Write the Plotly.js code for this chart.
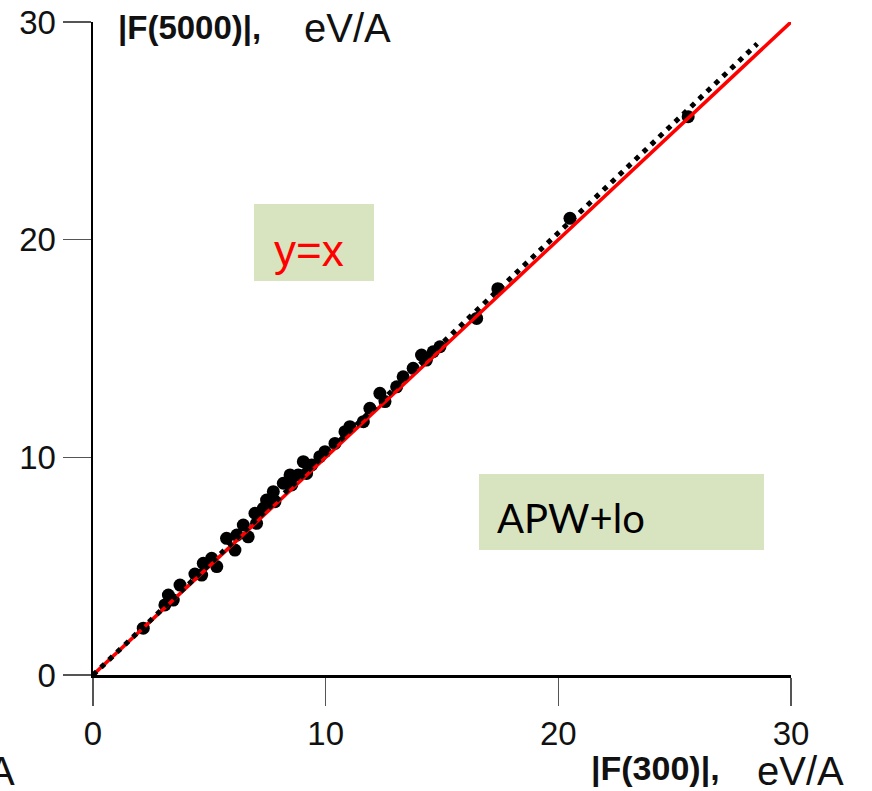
<!DOCTYPE html>
<html>
<head>
<meta charset="utf-8">
<script src="https://cdn.plot.ly/plotly-3.0.1.min.js"></script>
<style>html,body{margin:0;padding:0;background:#fff}#chart{width:872px;height:791px}</style>
</head>
<body>
<div id="chart"></div>
<script>
// |F(300)| values (x) and |F(5000)| values (y), eV/A
const f300 = [2.16, 3.09, 3.24, 3.45, 3.74, 4.38, 4.67, 4.74, 5.10, 5.32, 5.74, 6.10, 6.18, 6.46, 6.67, 6.96, 7.03, 7.32, 7.46, 7.75, 7.82, 8.18, 8.47, 8.54, 8.82, 9.04, 9.18, 9.40, 9.75, 9.97, 10.40, 10.83, 11.04, 11.62, 11.90, 12.33, 12.55, 13.05, 13.33, 13.76, 14.12, 14.33, 14.62, 14.91, 16.49, 17.40, 20.50, 25.58];
const f5000 = [2.15, 3.22, 3.67, 3.44, 4.13, 4.64, 4.59, 5.13, 5.36, 4.98, 6.28, 5.74, 6.43, 6.89, 6.35, 7.43, 6.97, 7.66, 8.04, 8.42, 7.96, 8.81, 9.19, 8.73, 9.19, 9.80, 9.26, 9.65, 10.03, 10.26, 10.64, 11.18, 11.41, 11.64, 12.25, 12.94, 12.56, 13.24, 13.70, 14.09, 14.70, 14.47, 14.85, 15.08, 16.38, 17.75, 20.98, 25.65];
// fitted (dotted) line end points
const fitX = [0, 28.55];
const fitY = [0, 29.0];
// y = x reference line
const idX = [0, 30];
const idY = [0, 30];
const tickVals = [0, 10, 20, 30];
const tickText = ["0", "10", "20", "30"];

const L = 93, T = 22, W = 698, H = 653;
const px = v => (v - L) / W;
const py = v => (T + H - v) / H;

const traces = [
  {x: f300, y: f5000, type: 'scatter', mode: 'markers', cliponaxis: false,
   marker: {color: '#000', size: 13}, hoverinfo: 'skip'},
  {x: idX, y: idY, type: 'scatter', mode: 'lines', cliponaxis: false,
   line: {color: '#ff0000', width: 3.5}},
  {x: fitX, y: fitY, type: 'scatter', mode: 'lines', cliponaxis: false,
   line: {color: '#000', width: 5, dash: '5px,6px'}}
];

const axisCommon = {
  range: [0, 30], tickvals: tickVals, ticktext: tickText,
  showgrid: false, zeroline: false, showline: true, linecolor: '#000', linewidth: 2.5,
  ticks: 'outside', ticklen: 28, tickwidth: 1.5, tickcolor: '#555',
  tickfont: {family: 'Liberation Sans, Arial, sans-serif', size: 33, color: '#111'},
  fixedrange: true
};

const layout = {
  width: 872, height: 791,
  margin: {l: L, r: 872 - L - W, t: T, b: 791 - T - H, pad: 0},
  paper_bgcolor: '#fff', plot_bgcolor: '#fff',
  showlegend: false,
  xaxis: Object.assign({}, axisCommon),
  yaxis: Object.assign({}, axisCommon),
  shapes: [
    {type: 'rect', xref: 'paper', yref: 'paper', x0: px(254), x1: px(374), y0: py(281), y1: py(204),
     fillcolor: '#d8e4bf', line: {width: 0}, layer: 'below'},
    {type: 'rect', xref: 'paper', yref: 'paper', x0: px(479), x1: px(764), y0: py(550), y1: py(474),
     fillcolor: '#d8e4bf', line: {width: 0}, layer: 'below'}
  ],
  annotations: [
    {xref: 'paper', yref: 'paper', x: px(272), y: py(251), xanchor: 'left', yanchor: 'middle', showarrow: false,
     text: 'y=x', font: {family: 'Liberation Sans Narrow, Arial Narrow, sans-serif', size: 44, color: '#ff0000'}},
    {xref: 'paper', yref: 'paper', x: px(495), y: py(518), xanchor: 'left', yanchor: 'middle', showarrow: false,
     text: 'APW+lo', font: {family: 'Lato, Open Sans, sans-serif', size: 40, color: '#000'}},
    {xref: 'paper', yref: 'paper', x: px(116), y: py(27), xanchor: 'left', yanchor: 'middle', showarrow: false,
     text: '<b>|F(5000)|,</b>', font: {family: 'Liberation Sans, Arial, sans-serif', size: 33, color: '#111'}},
    {xref: 'paper', yref: 'paper', x: px(302), y: py(28), xanchor: 'left', yanchor: 'middle', showarrow: false,
     text: 'eV/A', font: {family: 'Liberation Sans, Arial, sans-serif', size: 40, color: '#111'}},
    {xref: 'paper', yref: 'paper', x: px(589), y: py(768), xanchor: 'left', yanchor: 'middle', showarrow: false,
     text: '<b>|F(300)|,</b>', font: {family: 'Liberation Sans, Arial, sans-serif', size: 34, color: '#111'}},
    {xref: 'paper', yref: 'paper', x: px(755), y: py(771), xanchor: 'left', yanchor: 'middle', showarrow: false,
     text: 'eV/A', font: {family: 'Liberation Sans, Arial, sans-serif', size: 40, color: '#111'}},
    {xref: 'paper', yref: 'paper', x: px(-14), y: py(771), xanchor: 'left', yanchor: 'middle', showarrow: false,
     text: 'A', font: {family: 'Liberation Sans, Arial, sans-serif', size: 40, color: '#111'}}
  ]
};

Plotly.newPlot('chart', traces, layout, {displayModeBar: false, staticPlot: true});
</script>
</body>
</html>
